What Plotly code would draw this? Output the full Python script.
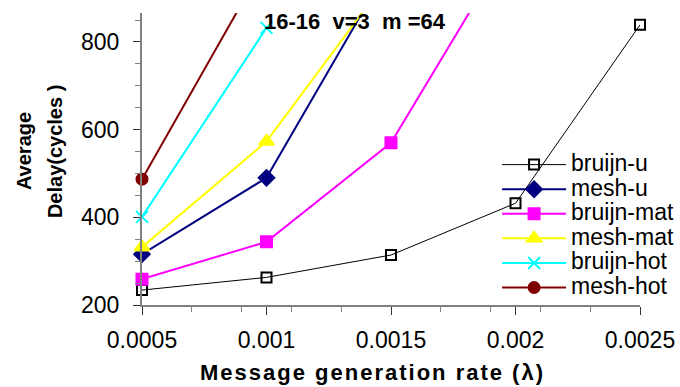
import plotly.graph_objects as go

rates = [0.0005, 0.001, 0.0015, 0.002, 0.0025]

bruijn_u = [234, 263, 314, 432, 839]
mesh_u = [316, 490, 980]
bruijn_mat = [259, 344, 570, 1042]
mesh_mat = [332, 573, 955]
bruijn_hot = [401, 832]
mesh_hot = [487, 987]

series = [
    ("bruijn-u", bruijn_u, "#000000", 1, "square-open", 10),
    ("mesh-u", mesh_u, "#000080", 2, "diamond", 12),
    ("bruijn-mat", bruijn_mat, "#FF00FF", 2, "square", 11),
    ("mesh-mat", mesh_mat, "#FFFF00", 2, "triangle-up", 13),
    ("bruijn-hot", bruijn_hot, "#00FFFF", 2, "x-thin-open", 12),
    ("mesh-hot", mesh_hot, "#800000", 2, "circle", 11),
]

x_ticks = [0.0005, 0.001, 0.0015, 0.002, 0.0025]
x_tick_text = ["0.0005", "0.001", "0.0015", "0.002", "0.0025"]
y_ticks = [200, 400, 600, 800]

fig = go.Figure()
for name, vals, color, lw, sym, size in series:
    fig.add_trace(go.Scatter(
        x=rates[:len(vals)], y=vals, mode="lines+markers",
        name="<span style='font-size:23px'>" + name + "</span>",
        line=dict(color=color, width=lw),
        marker=dict(symbol=sym, size=size, color=color,
                    line=dict(color=color, width=2)),
        cliponaxis=False,
    ))

fig.update_layout(
    width=680, height=387,
    margin=dict(l=142, r=40, t=13, b=82, autoexpand=False),
    paper_bgcolor="white", plot_bgcolor="white",
    font=dict(family="Arial, Liberation Sans, sans-serif", color="black"),
    showlegend=True,
    legend=dict(
        x=0.713, y=0.540, xanchor="left", yanchor="top",
        bgcolor="rgba(0,0,0,0)", borderwidth=0,
        font=dict(size=16.6, family="Arial, Liberation Sans, sans-serif"),
        itemwidth=64, tracegroupgap=0,
    ),
    xaxis=dict(
        range=[0.0005, 0.0025], tickvals=x_ticks, ticktext=x_tick_text,
        showgrid=False, zeroline=False, showline=True,
        linecolor="#808080", linewidth=2,
        ticks="outside", ticklen=8, tickwidth=1, tickcolor="#333",
        ticklabelstandoff=5,
        tickfont=dict(size=23),
        minor=dict(tick0=0.0005, dtick=0.0002, ticks="outside",
                   ticklen=5, tickcolor="#808080", showgrid=False),
    ),
    yaxis=dict(
        range=[200, 866], tickvals=y_ticks,
        showgrid=False, zeroline=False, showline=True,
        linecolor="#808080", linewidth=2,
        ticks="outside", ticklen=7, tickwidth=1, tickcolor="#333",
        ticklabelstandoff=9,
        tickfont=dict(size=23),
        minor=dict(tick0=200, dtick=50, ticks="outside",
                   ticklen=5, tickcolor="#808080", showgrid=False),
    ),
    annotations=[
        dict(text="<b>16-16\u00a0\u00a0v=3\u00a0\u00a0m\u00a0=64</b>",
             xref="paper", yref="paper", x=0.428, y=0.9726,
             xanchor="center", yanchor="middle", showarrow=False,
             font=dict(size=22)),
        dict(text="<b><span style='letter-spacing:2px'>Message generation rate (\u03bb)</span></b>",
             xref="paper", yref="paper", x=0.4628, y=-0.2295,
             xanchor="center", yanchor="middle", showarrow=False,
             font=dict(size=22)),
        dict(text="<b>Average</b>",
             xref="paper", yref="paper", x=-0.237, y=0.527,
             xanchor="center", yanchor="middle", showarrow=False,
             textangle=-90, font=dict(size=20)),
        dict(text="<b>Delay(cycles )</b>",
             xref="paper", yref="paper", x=-0.1747, y=0.527,
             xanchor="center", yanchor="middle", showarrow=False,
             textangle=-90, font=dict(size=20)),
    ],
)

fig.write_html("out.html")
